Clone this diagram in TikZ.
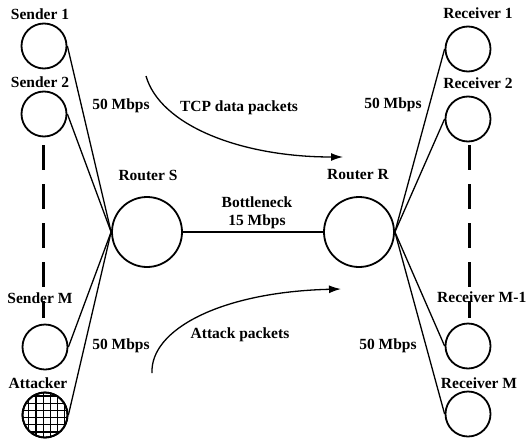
\documentclass[tikz,border=0pt]{standalone}
\usepackage{fontspec}
\setmainfont{Liberation Serif}
\usetikzlibrary{arrows.meta}
\begin{document}
\begin{tikzpicture}[x=1pt,y=-1pt,
  host/.style={circle,draw,line width=1.8pt,minimum size=45pt,inner sep=0pt},
  router/.style={circle,draw,line width=1.8pt,minimum size=70pt,inner sep=0pt},
  lbl/.style={font=\fontsize{15.5}{17}\selectfont\bfseries,inner sep=0pt},
  link/.style={line width=1.3pt},
  dots/.style={line width=3pt,dash pattern=on 25pt off 14pt},
  flow/.style={line width=1.3pt,-{Latex[length=12pt,width=8pt]}}]
\useasboundingbox (0,0) rectangle (526,441);
% hosts
\node[host] (s1) at (44,46) {};
\node[host] (s2) at (44,114) {};
\node[host] (sm) at (45,347) {};
\node[host] (att) at (45,415) {};
\begin{scope}
  \clip (att.center) circle (22pt);
  \draw[line width=1.2pt,step=7.2pt] (15,385) grid (75,445);
\end{scope}
\node[host] at (att) {};
\node[host] (r1) at (468,49) {};
\node[host] (r2) at (468,119) {};
\node[host] (rm1) at (468,346) {};
\node[host] (rm) at (468,414) {};
% routers
\node[router] (rs) at (147,232) {};
\node[router] (rr) at (359,232) {};
% labels
\node[lbl] (ls1) at (40,14) {Sender 1};
\node[lbl] (ls2) at (40,82) {Sender 2};
\node[lbl] (lsm) at (40,298) {Sender M};
\node[lbl] (latt) at (38,383) {Attacker};
\node[lbl] (lr1) at (478,13) {Receiver 1};
\node[lbl] (lr2) at (478,83) {Receiver 2};
\node[lbl,anchor=west] (lrm1) at (437,297) {Receiver M-1};
\node[lbl] (lrm) at (479,383) {Receiver M};
\node[lbl] (lrs) at (148,175) {Router S};
\node[lbl] (lrr) at (358,175) {Router R};
\node[lbl] (lbn) at (257,202) {Bottleneck};
\node[lbl] (lbw) at (257,222) {15 Mbps};
\node[lbl] (l50a) at (121,106) {50 Mbps};
\node[lbl] (l50b) at (393,105) {50 Mbps};
\node[lbl] (l50c) at (121,346) {50 Mbps};
\node[lbl] (l50d) at (388,346) {50 Mbps};
\node[lbl] (ltcp) at (239,108) {TCP data packets};
\node[lbl] (latk) at (240,335) {Attack packets};
% links
\draw[link] (s1.east) -- (rs.west);
\draw[link] (s2.east) -- (rs.west);
\draw[link] (sm.east) -- (rs.west);
\draw[link] (att.east) -- (rs.west);
\draw[link] (rr.east) -- (r1.west);
\draw[link] (rr.east) -- (r2.west);
\draw[link] (rr.east) -- (rm1.west);
\draw[link] (rr.east) -- (rm.west);
\draw[link] (rs.east) -- (rr.west);
% dashed
\coordinate (d1a) at (43,145);
\coordinate (d1b) at (43,318);
\coordinate (d2a) at (469,145);
\coordinate (d2b) at (469,318);
\draw[dots] (d1a) -- (d1b);
\draw[dots] (d2a) -- (d2b);
% flows
\coordinate (t0) at (146,76);
\coordinate (t1) at (343,157);
\coordinate (a0) at (152,373);
\coordinate (a1) at (341,289);
\draw[flow] (t0) .. controls (160,125) and (240,157) .. (t1);
\draw[flow] (a0) .. controls (150,330) and (220,292) .. (a1);
\end{tikzpicture}
\end{document}
